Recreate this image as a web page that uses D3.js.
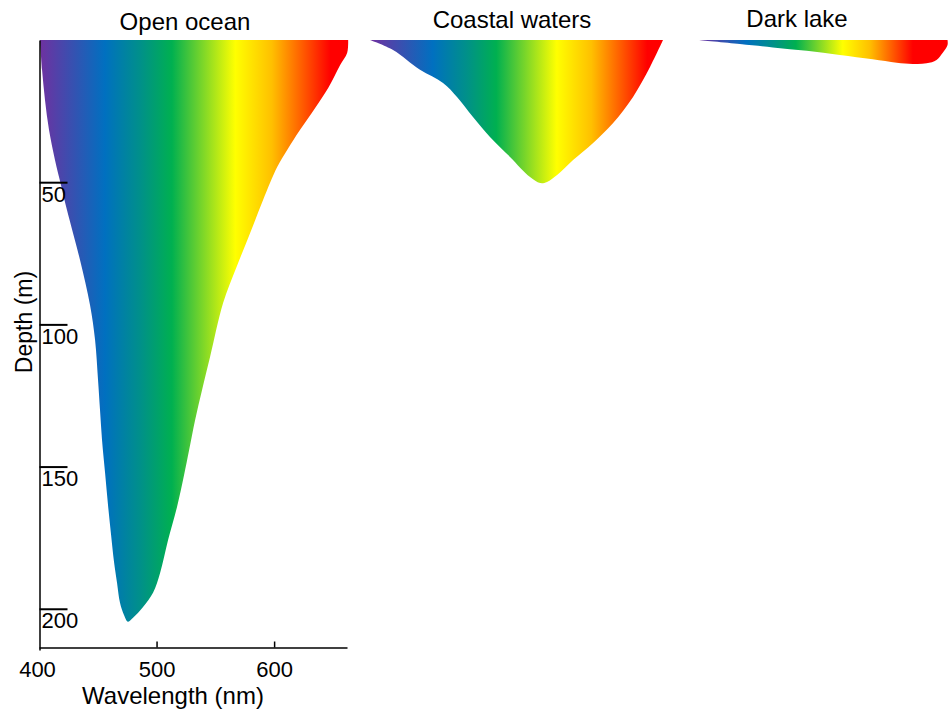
<!DOCTYPE html>
<html>
<head>
<meta charset="utf-8">
<script src="https://cdn.jsdelivr.net/npm/d3@7"></script>
<style>
  body { margin: 0; background: #fff; }
  svg { display: block; font-family: "Liberation Sans", Arial, sans-serif; }
</style>
</head>
<body>
<div id="chart"></div>
<script>
// wavelength (nm), depth (m) outline of each light profile
const openOcean = [
  [400.9, 0], [402.6, 10.5], [405.1, 21.1], [408.5, 31.6], [413.6, 42.2],
  [418.7, 51], [423.8, 59.8], [434.9, 77.4], [443.4, 93.2], [447.7, 105.5],
  [450.2, 119.5], [451.9, 130.1], [453.6, 140.6], [456.2, 152.2], [458.7, 163.5],
  [461.3, 174], [463.8, 183.5], [466.4, 190.9], [468.9, 197.9], [472.3, 202.2],
  [475.7, 204.6], [480, 203.2], [488.5, 199.4], [497, 194.4], [503, 187.4],
  [509.8, 175.8], [517.4, 164.2], [523.4, 153], [527.7, 144.2], [532.8, 133.6],
  [538.7, 123.1], [545.5, 111.5], [556.6, 92.5], [567.7, 80.2], [579.6, 67.9],
  [590.6, 56.3], [602.6, 44.7], [611.1, 38.7], [622.1, 31.6], [634.9, 23.9],
  [646, 16.9], [656.2, 8.8], [662.1, 4.6], [663, 0]
];
const coastalWaters = [
  [400, 0], [420.6, 3.5], [444.7, 10.5], [465.3, 15.1], [477.8, 20],
  [492.1, 27.1], [507.3, 34.1], [525.2, 41.1], [543.1, 48.2], [552.1, 50.3],
  [558.3, 49.9], [567.3, 47.5], [581.6, 42.2], [599.5, 36.2], [617.4, 29.2],
  [635.2, 20], [650.4, 9.5], [662, 0]
];
const darkLake = [
  [400, 0], [448.4, 1.4], [486.4, 2.6], [525.6, 3.8], [563.6, 5.3],
  [601.6, 6.8], [629.3, 8.0], [647.7, 8.4], [663.8, 8.2], [675.3, 7.0],
  [682.3, 4.6], [688, 1.8], [688, 0]
];

const panelTitles = ["Open ocean", "Coastal waters", "Dark lake"];
const wavelengthTicks = [400, 500, 600];
const depthTicks = [50, 100, 150, 200];

const spectrumNm = [400, 456, 486, 513, 567, 598, 648];
const spectrumColors = ["#7030a0", "#0070c0", "#00908a", "#00b050", "#ffff00", "#ffc000", "#ff0000"];

const width = 948, height = 710;
const nmDomain = [400, 662];

const svg = d3.select("#chart").append("svg")
  .attr("width", width)
  .attr("height", height);

const defs = svg.append("defs");

const y = d3.scaleLinear().domain([0, 214.5]).range([40, 650]);

const panels = [
  { data: openOcean, range: [39, 347], titleX: 185, titleY: 30 },
  { data: coastalWaters, range: [370, 663], titleX: 512, titleY: 28 },
  { data: darkLake, range: [698, 925], titleX: 797, titleY: 27 }
];

panels.forEach((p, i) => {
  const x = d3.scaleLinear().domain(nmDomain).range(p.range);
  p.x = x;

  const grad = defs.append("linearGradient")
    .attr("id", "spectrum" + i)
    .attr("gradientUnits", "userSpaceOnUse")
    .attr("x1", x(nmDomain[0])).attr("x2", x(nmDomain[1]))
    .attr("y1", 0).attr("y2", 0);

  spectrumNm.forEach((nm, j) => {
    grad.append("stop")
      .attr("offset", (nm - nmDomain[0]) / (nmDomain[1] - nmDomain[0]))
      .attr("stop-color", spectrumColors[j]);
  });

  const line = d3.line()
    .x(d => x(d[0]))
    .y(d => y(d[1]))
    .curve(d3.curveCatmullRom.alpha(0.5));

  svg.append("path")
    .attr("d", line(p.data) + "Z")
    .attr("fill", "url(#spectrum" + i + ")");

  svg.append("text")
    .attr("x", p.titleX)
    .attr("y", p.titleY)
    .attr("text-anchor", "middle")
    .attr("font-size", "24px")
    .attr("fill", "#000")
    .text(panelTitles[i]);
});

// x axis (open ocean only)
const xMain = panels[0].x;
const xAxis = svg.append("g")
  .attr("transform", "translate(0,647.5)")
  .call(d3.axisBottom(xMain)
    .tickValues(wavelengthTicks)
    .tickSize(-6)
    .tickSizeOuter(0)
    .tickPadding(14));

xAxis.select(".domain").attr("stroke", "#000").attr("stroke-width", 1.5);
xAxis.selectAll(".tick line").attr("stroke", "#000").attr("stroke-width", 1.5);
xAxis.selectAll(".tick text")
  .attr("font-size", "22px")
  .attr("font-family", "Liberation Sans, Arial, sans-serif")
  .attr("fill", "#000")
  .attr("dx", d => d === 400 ? -2 : 0);
xAxis.selectAll(".tick").filter(d => d === 400).select("line").remove();

svg.append("text")
  .attr("x", 173)
  .attr("y", 704)
  .attr("text-anchor", "middle")
  .attr("font-size", "24px")
  .attr("fill", "#000")
  .text("Wavelength (nm)");

// y axis
const yAxis = svg.append("g")
  .attr("transform", "translate(39.5,0)")
  .call(d3.axisRight(y)
    .tickValues(depthTicks)
    .tickSize(28)
    .tickSizeOuter(0));

yAxis.select(".domain").attr("stroke", "#000").attr("stroke-width", 1.5);
yAxis.selectAll(".tick line").attr("stroke", "#000").attr("stroke-width", 2);
yAxis.selectAll(".tick text")
  .attr("x", 2)
  .attr("y", 19)
  .attr("dy", 0)
  .attr("text-anchor", "start")
  .attr("font-size", "22px")
  .attr("font-family", "Liberation Sans, Arial, sans-serif")
  .attr("fill", "#000");

svg.append("text")
  .attr("transform", "translate(32,322) rotate(-90)")
  .attr("text-anchor", "middle")
  .attr("font-size", "23px")
  .attr("fill", "#000")
  .text("Depth (m)");
</script>
</body>
</html>
